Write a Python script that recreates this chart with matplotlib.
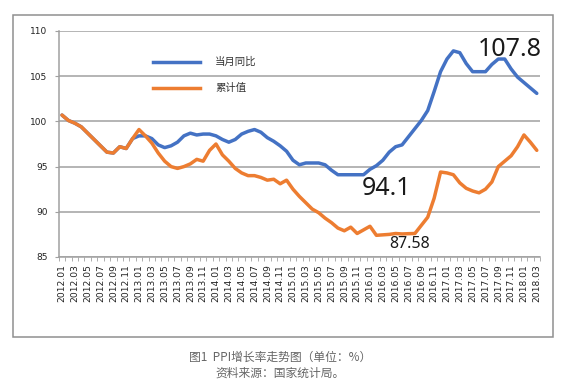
import matplotlib
matplotlib.use('Agg')
import matplotlib.pyplot as plt
from matplotlib.lines import Line2D
from matplotlib.patches import Rectangle

plt.rcParams['font.family'] = ['Noto Sans CJK SC', 'DejaVu Sans']

months = [f"{y}.{m:02d}" for y in range(2012, 2019) for m in range(1, 13)][:75]
tick_labels = months[::2]

yoy = [100.7, 100.1, 99.8, 99.4, 98.7, 98.0, 97.3, 96.6, 96.5, 97.2, 97.0, 98.1,
       98.4, 98.4, 98.1, 97.4, 97.1, 97.3, 97.7, 98.4, 98.7, 98.5, 98.6, 98.6,
       98.4, 98.0, 97.7, 98.0, 98.6, 98.9, 99.1, 98.8, 98.2, 97.8, 97.3, 96.7,
       95.7, 95.2, 95.4, 95.4, 95.4, 95.2, 94.6, 94.1, 94.1, 94.1, 94.1, 94.1,
       94.7, 95.1, 95.7, 96.6, 97.2, 97.4, 98.3, 99.2, 100.1, 101.2, 103.3, 105.5,
       106.9, 107.8, 107.6, 106.4, 105.5, 105.5, 105.5, 106.3, 106.9, 106.9, 105.8, 104.9,
       104.3, 103.7, 103.1]

cum = [100.7, 100.1, 99.8, 99.4, 98.7, 98.0, 97.3, 96.6, 96.5, 97.2, 97.0, 98.1,
       99.1, 98.4, 97.6, 96.5, 95.6, 95.0, 94.8, 95.0, 95.3, 95.8, 95.6, 96.8,
       97.5, 96.3, 95.6, 94.8, 94.3, 94.0, 94.0, 93.8, 93.5, 93.6, 93.1, 93.5,
       92.5, 91.7, 91.0, 90.3, 89.9, 89.3, 88.8, 88.2, 87.9, 88.3, 87.6, 88.0,
       88.4, 87.4, 87.45, 87.5, 87.6, 87.55, 87.58, 87.6, 88.5, 89.4, 91.5, 94.4,
       94.3, 94.1, 93.2, 92.6, 92.3, 92.1, 92.5, 93.3, 95.0, 95.6, 96.2, 97.2,
       98.5, 97.7, 96.8]

series_names = ['当月同比', '累计值']
blue = '#4472C4'
orange = '#ED7D31'
W, H = 572, 383

fig = plt.figure(figsize=(W / 100, H / 100), dpi=100)
ax = fig.add_axes([58.8 / W, 1 - 257 / H, (540 - 58.8) / W, (257 - 31) / H])

x = list(range(len(yoy)))
ax.plot(x, yoy, color=blue, lw=2.5, solid_joinstyle='round', solid_capstyle='round', zorder=3)
ax.plot(x, cum, color=orange, lw=2.5, solid_joinstyle='round', solid_capstyle='round', zorder=4)

ax.set_xlim(-0.5, len(yoy) - 0.5)
ax.set_ylim(85, 110)
ax.set_yticks(range(85, 111, 5))
ax.grid(axis='y', color='#a0a0a0', lw=1.1)
ax.set_axisbelow(True)
for s in ['top', 'right']:
    ax.spines[s].set_visible(False)
for s in ['left', 'bottom']:
    ax.spines[s].set_color('#a0a0a0')
    ax.spines[s].set_linewidth(1.1)

ax.set_xticks(x[::2])
ax.set_xticklabels(tick_labels, rotation=90, fontsize=6.6, family='DejaVu Sans', color='#222222')
ax.tick_params(axis='x', which='major', length=0, pad=5)
ax.set_xticks([i - 0.5 for i in range(len(yoy) + 1)], minor=True)
ax.tick_params(axis='x', which='minor', length=3, color='#a0a0a0', direction='out')
ax.tick_params(axis='y', length=3, color='#a0a0a0', labelsize=6.5, pad=5, labelcolor='#222222')
for lab in ax.get_yticklabels():
    lab.set_family('DejaVu Sans')

# annotations
ax.text(69.8, 108.0, '107.8', ha='center', va='center', fontsize=18, family='Noto Sans',
        fontweight='light', color='#1a1a1a', zorder=5)
ax.text(50.5, 92.6, '94.1', ha='center', va='center', fontsize=18, family='Noto Sans',
        fontweight='light', color='#1a1a1a', zorder=5)
ax.text(54.1, 86.4, '87.58', ha='center', va='center', fontsize=11.5, family='Noto Sans',
        fontweight='light', color='#1a1a1a', zorder=5)

# legend (manual, Excel-like)
for yy, col, name in [(62, blue, series_names[0]), (88, orange, series_names[1])]:
    fig.add_artist(Line2D([153 / W, 200 / W], [1 - yy / H] * 2, color=col, lw=2.5))
    fig.text(215 / W, 1 - yy / H, name, va='center', ha='left', fontsize=7.5, color='#333333')

# outer chart border
fig.add_artist(Rectangle((13 / W, 1 - 337 / H), (553 - 13) / W, (337 - 15) / H,
                         transform=fig.transFigure, fill=False, ec='#8f8f8f', lw=1.1))

# caption
fig.text(280 / W, 1 - 357 / H, '图1  PPI增长率走势图（单位：%）', ha='center', va='center',
         fontsize=8.5, color='#666666')
fig.text(280 / W, 1 - 373 / H, '资料来源：国家统计局。', ha='center', va='center',
         fontsize=8.5, color='#666666')

fig.savefig('out.png', dpi=100)
